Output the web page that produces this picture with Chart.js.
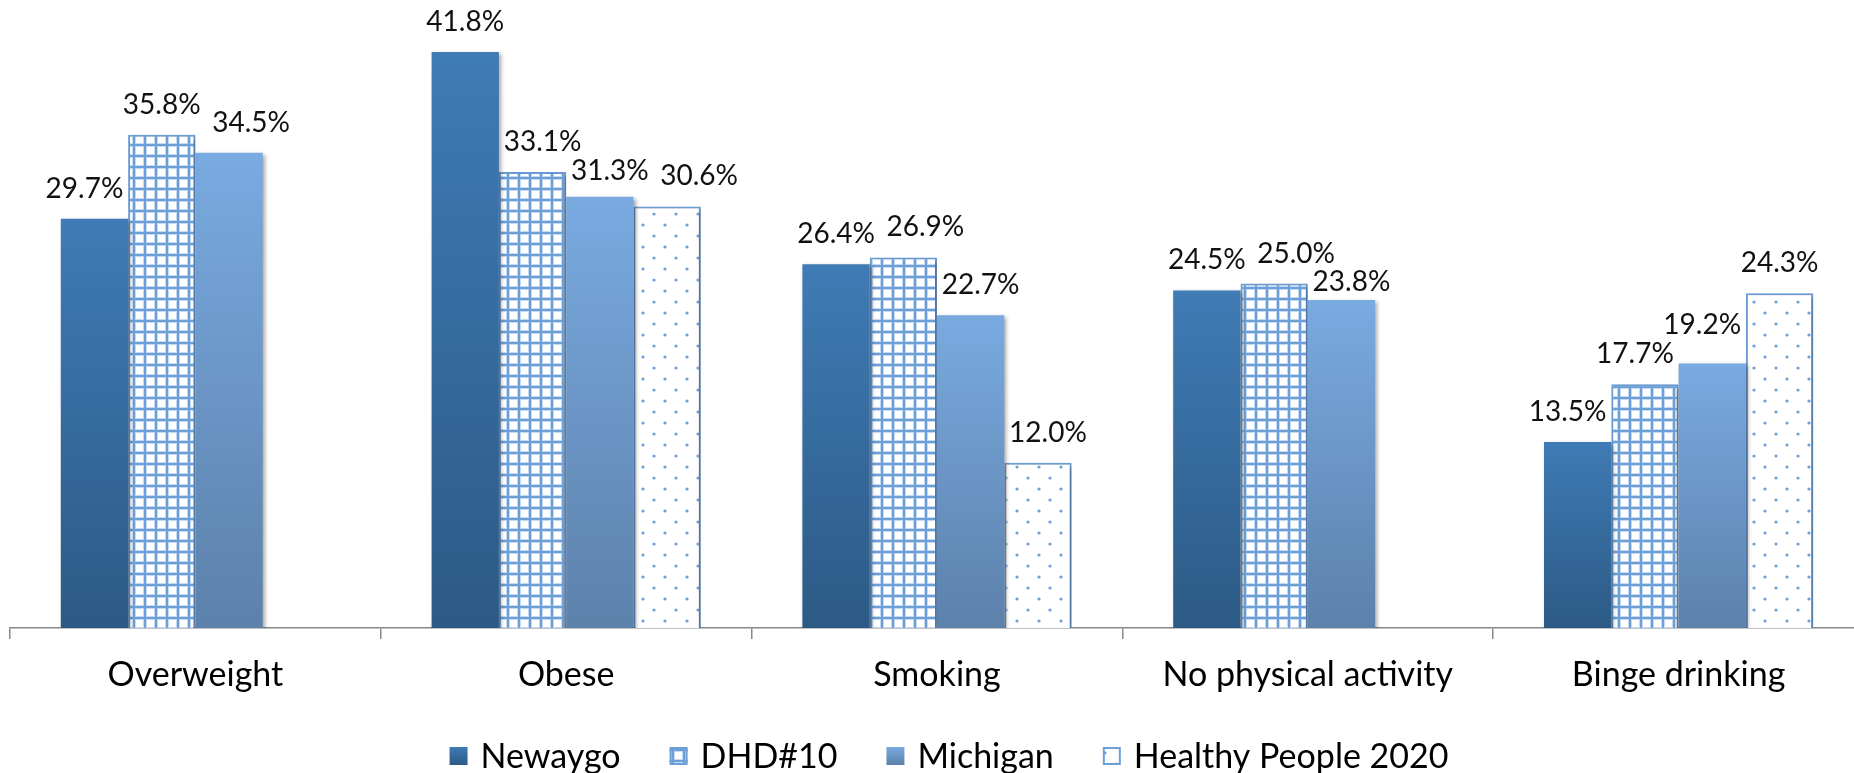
<!DOCTYPE html>
<html>
<head>
<meta charset="utf-8">
<script src="https://cdn.jsdelivr.net/npm/chart.js@4.4.1/dist/chart.umd.min.js"></script>
<style>
  html, body { margin: 0; padding: 0; background: #fff; overflow: hidden; }
  #wrap { width: 1866px; height: 773px; }
</style>
</head>
<body>
<div id="wrap"><canvas id="c" width="1866" height="773"></canvas></div>
<script>
// ---- data ----
const categories = ['Overweight', 'Obese', 'Smoking', 'No physical activity', 'Binge drinking'];
const seriesNames = ['Newaygo', 'DHD#10', 'Michigan', 'Healthy People 2020'];
const newaygo = [29.7, 41.8, 26.4, 24.5, 13.5];
const dhd10 = [35.8, 33.1, 26.9, 25.0, 17.7];
const michigan = [34.5, 31.3, 22.7, 23.8, 19.2];
const healthyPeople2020 = [null, 30.6, 12.0, null, 24.3];
const yMax = 45;

// ---- styles ----
const FONT = 'Lato, "Open Sans", sans-serif';
const patternBlue = '#6c9fd8';

function makeGridPattern() {
  const s = 11;
  const c = document.createElement('canvas'); c.width = s; c.height = s;
  const g = c.getContext('2d');
  g.fillStyle = '#fff'; g.fillRect(0, 0, s, s);
  g.fillStyle = '#c4daf2'; g.fillRect(0, 0, 4, s); g.fillRect(0, 0, s, 4);
  g.fillStyle = patternBlue; g.fillRect(1, 0, 2, s); g.fillRect(0, 1, s, 2);
  return g.createPattern(c, 'repeat');
}
function makeDotPattern() {
  const s = 22;
  const c = document.createElement('canvas'); c.width = s; c.height = s;
  const g = c.getContext('2d');
  g.fillStyle = '#fff'; g.fillRect(0, 0, s, s);
  g.fillStyle = patternBlue;
  [[5, 5], [16, 16]].forEach(p => { g.beginPath(); g.arc(p[0], p[1], 1.6, 0, Math.PI * 2); g.fill(); });
  return g.createPattern(c, 'repeat');
}
const gridPattern = makeGridPattern();
const dotPattern = makeDotPattern();

function barGradient(ctx, topColor, bottomColor) {
  const chart = ctx.chart;
  const ys = chart.scales && chart.scales.y;
  if (ctx.type !== 'data' || !ys || !chart.chartArea || ctx.raw == null) return topColor;
  const y0 = ys.getPixelForValue(ctx.raw);
  const y1 = ys.getPixelForValue(0);
  if (!isFinite(y0) || !isFinite(y1) || y0 === y1) return topColor;
  const g = chart.ctx.createLinearGradient(0, y0, 0, y1);
  g.addColorStop(0, topColor);
  g.addColorStop(1, bottomColor);
  return g;
}
const NEW_TOP = '#3f7bb5', NEW_BOT = '#2c5a85';
const MI_TOP = '#79aae0', MI_BOT = '#5c81ab';

// ---- plugins ----
const shadowPlugin = {
  id: 'barShadow',
  beforeDatasetsDraw(chart) {
    const c = chart.ctx; c.save();
    c.shadowColor = 'rgba(0,0,0,0.35)';
    c.shadowBlur = 4; c.shadowOffsetX = 2; c.shadowOffsetY = 2;
  },
  afterDatasetsDraw(chart) { chart.ctx.restore(); }
};

// value labels placed above their bars, nudged to avoid neighbouring bars and labels
const valueLabelPlugin = {
  id: 'valueLabels',
  afterDraw(chart) {
    const c = chart.ctx;
    c.save();
    c.font = '28px ' + FONT;
    c.fillStyle = '#111';
    c.textAlign = 'center';
    c.textBaseline = 'middle';
    const H = 24, GAP = 30;
    const dxOrder = [0];
    for (let k = 2; k <= 44; k += 2) { dxOrder.push(-k, k); }
    const dyOrder = [0];
    for (let k = 2; k <= 70; k += 2) { if (k <= 12) dyOrder.push(-k); dyOrder.push(k); }
    for (let i = 0; i < categories.length; i++) {
      const rects = [];
      chart.data.datasets.forEach((ds, d) => {
        if (ds.data[i] == null) return;
        const p = chart.getDatasetMeta(d).data[i].getProps(['x', 'y', 'base', 'width'], true);
        rects.push({ d, l: p.x - p.width / 2, r: p.x + p.width / 2, t: Math.min(p.y, p.base), b: Math.max(p.y, p.base), x: p.x });
      });
      const placed = [];
      rects.forEach(rc => {
        const v = chart.data.datasets[rc.d].data[i];
        const text = v.toFixed(1) + '%';
        const w = c.measureText(text).width;
        const x0 = rc.x, y0 = rc.t - GAP;
        let best = null;
        for (const dyUp of dyOrder) {
          for (const dx of dxOrder) {
            const cost = Math.abs(dx) + 2 * Math.abs(dyUp);
            if (best && cost >= best.cost) continue;
            const cx = x0 + dx, cy = y0 - dyUp;
            const bx = { l: cx - w / 2, r: cx + w / 2, t: cy - H / 2, b: cy + H / 2 };
            if (bx.t < 2) continue;
            let hit = false;
            for (const o of rects) {
              if (o === rc) continue;
              if (bx.r + 4 > o.l && bx.l - 4 < o.r && bx.b + 6 > o.t) { hit = true; break; }
            }
            if (!hit) for (const o of placed) {
              if (bx.r + 10 > o.l && bx.l - 10 < o.r && bx.b + 3 > o.t && bx.t - 3 < o.b) { hit = true; break; }
            }
            if (!hit) best = { cost, cx, cy, bx };
          }
        }
        if (!best) best = { cx: x0, cy: y0, bx: { l: x0 - w / 2, r: x0 + w / 2, t: y0 - H / 2, b: y0 + H / 2 } };
        placed.push(best.bx);
        c.fillText(text, best.cx, best.cy);
      });
    }
    c.restore();
  }
};

const legendPlugin = {
  id: 'customLegend',
  afterDraw(chart) {
    const c = chart.ctx;
    const area = chart.chartArea;
    c.save();
    c.font = '34px ' + FONT;
    c.textBaseline = 'middle';
    c.fillStyle = '#000';
    const box = 18, gapText = 13, gapItem = 49;
    const items = chart.data.datasets.map(ds => ({ text: ds.label, ds, w: c.measureText(ds.label).width }));
    const total = items.reduce((s, it) => s + box + gapText + it.w, 0) + gapItem * (items.length - 1);
    let x = (area.left + area.right) / 2 + 12 - total / 2;
    const y = 756;
    items.forEach((it, idx) => {
      const bx = x, by = y - box / 2;
      let fill;
      if (idx === 0) { fill = c.createLinearGradient(0, by, 0, by + box); fill.addColorStop(0, NEW_TOP); fill.addColorStop(1, NEW_BOT); }
      else if (idx === 2) { fill = c.createLinearGradient(0, by, 0, by + box); fill.addColorStop(0, MI_TOP); fill.addColorStop(1, MI_BOT); }
      else fill = idx === 1 ? gridPattern : dotPattern;
      c.fillStyle = fill;
      c.fillRect(bx, by, box, box);
      if (idx === 1 || idx === 3) {
        c.strokeStyle = patternBlue; c.lineWidth = 2;
        c.strokeRect(bx + 1, by + 1, box - 2, box - 2);
      }
      c.fillStyle = '#000';
      c.fillText(it.text, bx + box + gapText, y + 1);
      x += box + gapText + it.w + gapItem;
    });
    c.restore();
  }
};

// ---- chart ----
new Chart(document.getElementById('c'), {
  type: 'bar',
  data: {
    labels: categories,
    datasets: [
      { label: seriesNames[0], data: newaygo, backgroundColor: c => barGradient(c, NEW_TOP, NEW_BOT), borderWidth: 0 },
      { label: seriesNames[1], data: dhd10, backgroundColor: gridPattern, borderColor: patternBlue, borderWidth: 2 },
      { label: seriesNames[2], data: michigan, backgroundColor: c => barGradient(c, MI_TOP, MI_BOT), borderWidth: 0 },
      { label: seriesNames[3], data: healthyPeople2020, backgroundColor: dotPattern, borderColor: patternBlue, borderWidth: 2 }
    ]
  },
  options: {
    responsive: false,
    devicePixelRatio: 1,
    animation: false,
    layout: { padding: { left: 10, right: 2, top: 8, bottom: 65 } },
    datasets: { bar: { categoryPercentage: 0.726, barPercentage: 1.0 } },
    plugins: { legend: { display: false }, tooltip: { enabled: false }, title: { display: false } },
    scales: {
      x: {
        grid: { offset: true, drawOnChartArea: false, drawTicks: true, tickLength: 11, color: '#888', lineWidth: 1.5 },
        border: { display: true, color: '#888', width: 1.5 },
        ticks: { color: '#000', font: { family: FONT, size: 34 }, padding: 16, maxRotation: 0, autoSkip: false },
        afterFit(scale) { scale.height = 80; }
      },
      y: { display: false, min: 0, max: yMax }
    }
  },
  plugins: [shadowPlugin, valueLabelPlugin, legendPlugin]
});
</script>
</body>
</html>
